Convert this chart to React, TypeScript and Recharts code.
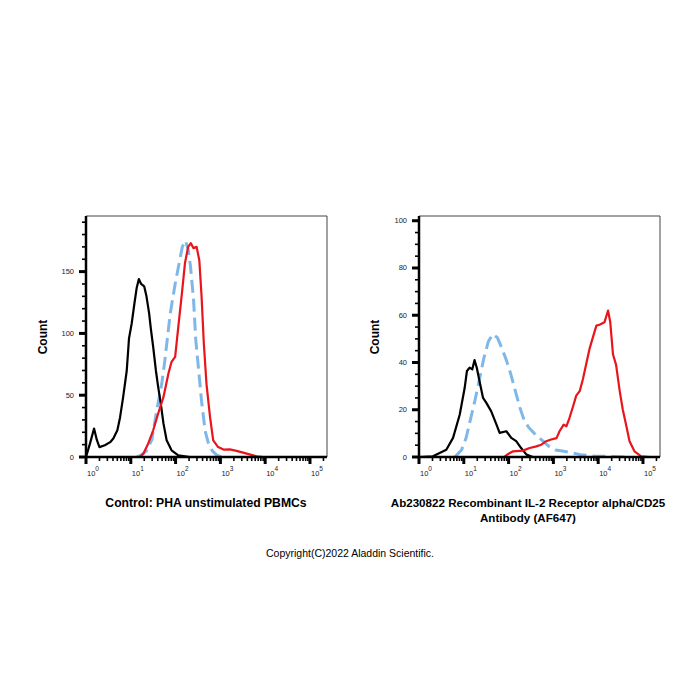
import React from "react";
import { LineChart, Line, XAxis, YAxis, ReferenceLine } from "recharts";

const FONT = "'Liberation Sans', Arial, Helvetica, sans-serif";
const RED = "#e8151c";
const BLUE = "#7fb8e8";
const BLACK = "#000000";

// x values are in decades (log10 of fluorescence intensity)
const X_DOMAIN: [number, number] = [0, 5.38];
const DECADES = [0, 1, 2, 3, 4, 5];
const DECADE_EXPONENTS = ["0", "1", "2", "3", "4", "5"];
const MINOR_FACTORS = [2, 3, 4, 5, 6, 7, 8, 9];

// Control: PHA unstimulated PBMCs
const ctrlBlackX = [0, 0.09, 0.18, 0.24, 0.3, 0.42, 0.54, 0.61, 0.7, 0.76, 0.83, 0.91, 0.96, 1.02, 1.08, 1.13, 1.18, 1.23, 1.3, 1.35, 1.41, 1.45, 1.5, 1.56, 1.61, 1.67, 1.73, 1.8, 1.91, 2.06, 2.32, 5.38];
const ctrlBlackY = [0, 11, 23, 14, 8, 9.5, 12, 15, 21.6, 32, 48.6, 70, 96, 108, 124, 136.5, 144, 140, 138, 130, 116, 103, 89, 70, 57, 43, 27, 13.5, 5.4, 1.4, 0, 0];
const ctrlBlueX = [1.13, 1.25, 1.35, 1.47, 1.58, 1.69, 1.76, 1.88, 1.99, 2.08, 2.15, 2.22, 2.28, 2.33, 2.4, 2.45, 2.51, 2.58, 2.66, 2.74, 2.82, 2.92, 3.05];
const ctrlBlueY = [0, 2, 5, 14, 38, 59, 78, 116, 140, 157, 170, 175, 168, 155, 128, 95, 72, 45, 21, 10, 5, 1.5, 0];
const ctrlRedX = [0, 1.2, 1.28, 1.39, 1.5, 1.61, 1.73, 1.84, 1.91, 1.99, 2.06, 2.14, 2.21, 2.28, 2.34, 2.4, 2.47, 2.53, 2.58, 2.63, 2.69, 2.77, 2.84, 2.95, 3.07, 3.21, 3.36, 3.59, 3.81, 3.96, 5.38];
const ctrlRedY = [0, 0, 2.7, 11, 21.6, 35, 48.6, 67.6, 77, 81, 105, 132, 157, 170, 173, 169, 170, 159, 130, 92, 59, 32, 13.5, 8, 6, 6.2, 5, 2.7, 0.5, 0, 0];

// Ab230822 Recombinant IL-2 Receptor alpha/CD25 Antibody (AF647)
const cd25BlackX = [0, 0.31, 0.61, 0.76, 0.91, 1.02, 1.07, 1.13, 1.19, 1.24, 1.29, 1.35, 1.43, 1.5, 1.61, 1.73, 1.8, 1.95, 2.06, 2.17, 2.28, 2.4, 2.54, 5.38];
const cd25BlackY = [0, 0.3, 3.1, 8.1, 18, 29.3, 36.4, 37.8, 37.1, 41, 37.8, 32.2, 25, 23, 19.4, 13.7, 10.2, 10.9, 8.1, 6.7, 3.8, 1, 0, 0];
const cd25BlueX = [0.8, 0.95, 1.05, 1.15, 1.25, 1.35, 1.45, 1.55, 1.65, 1.75, 1.85, 1.95, 2.05, 2.15, 2.25, 2.35, 2.45, 2.6, 2.75, 2.9, 3.05, 3.2, 3.4, 3.6, 3.9, 4.3, 4.6];
const cd25BlueY = [0, 3, 8, 16, 24, 33, 42, 49, 52, 50.5, 46, 41, 35, 28, 21, 15.5, 12.5, 9.5, 7, 4.5, 3, 2.5, 1.8, 1, 0.4, 0.2, 0];
const cd25RedX = [0, 1.9, 1.99, 2.1, 2.32, 2.47, 2.62, 2.73, 2.84, 2.95, 3.07, 3.14, 3.23, 3.29, 3.36, 3.44, 3.51, 3.59, 3.66, 3.74, 3.81, 3.88, 3.96, 4.03, 4.14, 4.22, 4.27, 4.33, 4.4, 4.48, 4.55, 4.63, 4.7, 4.81, 4.96, 5.15, 5.38];
const cd25RedY = [0, 0, 1.3, 2.4, 2.7, 3.8, 4.5, 5.2, 6.7, 7.4, 8, 11, 13.7, 13, 16.6, 21.5, 26, 28, 33, 40, 46, 50.5, 55.6, 56, 57, 62, 57, 43.5, 39, 28, 20, 13, 6.7, 2.4, 0.3, 0, 0];

const ctrlCountTicks = [0, 10, 20, 30, 40, 50, 60, 70, 80, 90, 100, 110, 120, 130, 140, 150, 160, 170, 180, 190];
const cd25CountTicks = [0, 5, 10, 15, 20, 25, 30, 35, 40, 45, 50, 55, 60, 65, 70, 75, 80, 85, 90, 95, 100];

const MINOR_LEN = 4;

const toPoints = (xs: number[], ys: number[]) => xs.map((x, i) => ({ x, y: ys[i] }));

const logTicks: number[] = [];
DECADES.forEach((d) => {
  logTicks.push(d);
  MINOR_FACTORS.forEach((k) => {
    const v = d + Math.log10(k);
    if (v <= X_DOMAIN[1]) logTicks.push(v);
  });
});

// tickLine draws the short marks; decades get a heavier, longer mark and a 10^n label
function LogTick(props: any) {
  const { x, y, payload } = props;
  const idx = DECADES.indexOf(payload.value);
  if (idx < 0) return <g />;
  return (
    <g>
      <line x1={x} x2={x} y1={y - MINOR_LEN} y2={y + 3} stroke="#000" strokeWidth={3} />
      <text x={x + 1} y={y + 15} fontSize={7.5} fill="#222" fontFamily={FONT}>
        10
        <tspan dy={-5} fontSize={6.5}>
          {DECADE_EXPONENTS[idx]}
        </tspan>
      </text>
    </g>
  );
}

function CountTick(props: any) {
  const { x, y, payload, step } = props;
  if (payload.value % step !== 0) return <g />;
  return (
    <g>
      <line x1={x - 3} x2={x + MINOR_LEN} y1={y} y2={y} stroke="#000" strokeWidth={3} />
      <text x={x - 8} y={y} dy={2.5} textAnchor="end" fontSize={7.5} fill="#222" fontFamily={FONT}>
        {payload.value}
      </text>
    </g>
  );
}

type Series = { points: { x: number; y: number }[]; color: string; dashed?: boolean };

function Histogram({
  left,
  yTop,
  countTicks,
  step,
  yAxisWidth,
  rightMargin,
  series,
}: {
  left: number;
  yTop: number;
  countTicks: number[];
  step: number;
  yAxisWidth: number;
  rightMargin: number;
  series: Series[];
}) {
  return (
    <div style={{ position: "absolute", left, top: 200 }}>
      <LineChart width={340} height={300} margin={{ top: 16, right: rightMargin, left: 0, bottom: 0 }}>
        <XAxis
          dataKey="x"
          type="number"
          domain={X_DOMAIN}
          allowDataOverflow
          ticks={logTicks}
          interval={0}
          height={43}
          tickSize={MINOR_LEN}
          tickMargin={0}
          tickLine={{ stroke: "#000", strokeWidth: 1.6 }}
          axisLine={{ stroke: "#000", strokeWidth: 2.5 }}
          tick={<LogTick />}
        />
        <YAxis
          type="number"
          domain={[0, yTop]}
          allowDataOverflow
          ticks={countTicks}
          interval={0}
          width={yAxisWidth}
          tickSize={MINOR_LEN}
          tickMargin={0}
          tickLine={{ stroke: "#000", strokeWidth: 1.6 }}
          axisLine={{ stroke: "#000", strokeWidth: 2.5 }}
          tick={(p: any) => <CountTick {...p} step={step} />}
        />
        {/* thin frame on the top and right edges */}
        <ReferenceLine y={yTop} stroke="#444" strokeWidth={1} />
        <ReferenceLine x={X_DOMAIN[1]} stroke="#444" strokeWidth={1} />
        {series.map((s, i) => (
          <Line
            key={i}
            data={s.points}
            dataKey="y"
            type="linear"
            stroke={s.color}
            strokeWidth={s.dashed ? 3 : 2.2}
            strokeDasharray={s.dashed ? "13 6" : undefined}
            strokeLinejoin="round"
            dot={false}
            activeDot={false}
            isAnimationActive={false}
          />
        ))}
      </LineChart>
    </div>
  );
}

const titleStyle: React.CSSProperties = {
  position: "absolute",
  width: 340,
  textAlign: "center",
  fontFamily: FONT,
  fontWeight: "bold",
  color: "#000",
  lineHeight: "14.5px",
  whiteSpace: "nowrap",
};

const countStyle: React.CSSProperties = {
  position: "absolute",
  top: 337,
  fontFamily: FONT,
  fontWeight: "bold",
  fontSize: 12,
  transform: "translate(-50%, -50%) rotate(-90deg)",
  lineHeight: "12px",
};

export default function App() {
  return (
    <div style={{ position: "absolute", left: 0, top: 0, width: 700, height: 700, background: "#fff", fontFamily: FONT }}>
      <Histogram
        left={0}
        yTop={195}
        countTicks={ctrlCountTicks}
        step={50}
        yAxisWidth={86}
        rightMargin={13}
        series={[
          { points: toPoints(ctrlBlueX, ctrlBlueY), color: BLUE, dashed: true },
          { points: toPoints(ctrlBlackX, ctrlBlackY), color: BLACK },
          { points: toPoints(ctrlRedX, ctrlRedY), color: RED },
        ]}
      />
      <Histogram
        left={340}
        yTop={102}
        countTicks={cd25CountTicks}
        step={20}
        yAxisWidth={79}
        rightMargin={20}
        series={[
          { points: toPoints(cd25BlueX, cd25BlueY), color: BLUE, dashed: true },
          { points: toPoints(cd25BlackX, cd25BlackY), color: BLACK },
          { points: toPoints(cd25RedX, cd25RedY), color: RED },
        ]}
      />
      <div style={{ ...countStyle, left: 43 }}>Count</div>
      <div style={{ ...countStyle, left: 375 }}>Count</div>
      <div style={{ ...titleStyle, left: 36, top: 496, fontSize: 12.2 }}>Control: PHA unstimulated PBMCs</div>
      <div style={{ ...titleStyle, left: 358, top: 496, fontSize: 11.6 }}>
        Ab230822 Recombinant IL-2 Receptor alpha/CD25
        <br />
        Antibody (AF647)
      </div>
      <div style={{ position: "absolute", left: 0, width: 700, top: 547, textAlign: "center", fontFamily: FONT, fontSize: 10.5, color: "#000" }}>
        Copyright(C)2022 Aladdin Scientific.
      </div>
    </div>
  );
}
